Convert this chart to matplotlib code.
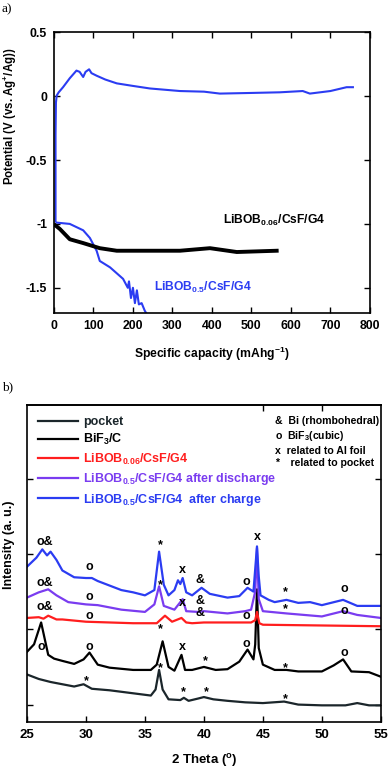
import matplotlib
matplotlib.use("Agg")
import matplotlib.pyplot as plt

plt.rcParams['font.family'] = ['Liberation Sans', 'DejaVu Sans']
plt.rcParams['font.weight'] = 'bold'
plt.rcParams['mathtext.fontset'] = 'custom'
plt.rcParams['mathtext.rm'] = 'Liberation Sans:bold'
plt.rcParams['mathtext.bf'] = 'Liberation Sans:bold'
plt.rcParams['mathtext.default'] = 'bf'

# --- panel a: charge/discharge curves ---
blue_dis_x = [7, 40, 74, 91, 108, 116, 142, 175, 187, 190, 195, 200, 205, 210, 215, 222, 230, 236]
blue_dis_y = [-0.99, -1.0, -1.05, -1.11, -1.21, -1.29, -1.34, -1.43, -1.50, -1.45, -1.58, -1.50,
              -1.62, -1.52, -1.63, -1.62, -1.68, -1.71]
blue_chg_x = [4, 4, 5, 7, 12, 23, 40, 57, 65, 74, 80, 89, 95, 108, 130, 159, 200, 243, 319, 380,
              420, 500, 572, 630, 648, 700, 741, 757]
blue_chg_y = [-0.98, -0.3, -0.05, 0.005, 0.03, 0.07, 0.14, 0.2, 0.19, 0.15, 0.19, 0.21, 0.18, 0.16,
              0.13, 0.1, 0.08, 0.06, 0.04, 0.035, 0.02, 0.025, 0.03, 0.04, 0.02, 0.04, 0.07, 0.07]
black_x = [3, 15, 40, 74, 116, 159, 243, 319, 395, 463, 564]
black_y = [-1.01, -1.04, -1.12, -1.15, -1.19, -1.21, -1.21, -1.21, -1.19, -1.22, -1.21]

# --- panel b: XRD patterns (offset, arbitrary units) ---
pocket_x = [25, 26, 27, 28, 29, 29.8, 30.5, 32, 34, 35.5, 35.9, 36.2, 36.5, 37, 38, 38.3, 38.7,
            39.5, 40, 40.8, 42, 43.5, 45, 46.8, 48, 50, 52, 53, 54, 55]
pocket_y = [1.40, 1.34, 1.30, 1.27, 1.24, 1.27, 1.21, 1.19, 1.15, 1.12, 1.20, 1.46, 1.20, 1.07,
            1.06, 1.09, 1.05, 1.08, 1.10, 1.07, 1.05, 1.03, 1.02, 1.04, 1.0, 0.99, 0.99, 1.02,
            0.99, 0.99]
bif3_x = [25, 25.6, 26.2, 26.8, 27.3, 28, 29, 29.8, 30.3, 31, 32, 34, 35.5, 36.0, 36.5, 37, 37.5,
          38.1, 38.4, 39, 40, 41, 42, 43, 43.7, 44.2, 44.35, 44.5, 44.65, 45, 46, 47, 48, 50, 51,
          51.8, 52.5, 54, 55]
bif3_y = [1.70, 1.80, 2.09, 1.66, 1.61, 1.58, 1.54, 1.60, 1.69, 1.53, 1.49, 1.46, 1.46, 1.53,
          1.84, 1.50, 1.45, 1.66, 1.46, 1.46, 1.50, 1.46, 1.47, 1.57, 1.73, 1.60, 1.80, 2.53, 1.75,
          1.53, 1.46, 1.46, 1.44, 1.44, 1.52, 1.60, 1.44, 1.43, 1.37]
red_x = [25, 26.0, 26.4, 26.8, 27.5, 28, 30, 34, 36, 36.7, 37.3, 38.1, 38.5, 39, 40, 44, 44.35,
         44.5, 44.7, 45, 50, 55]
red_y = [2.15, 2.16, 2.14, 2.18, 2.13, 2.13, 2.10, 2.08, 2.08, 2.18, 2.10, 2.15, 2.09, 2.08, 2.09,
         2.09, 2.12, 2.23, 2.08, 2.06, 2.05, 2.04]
purple_x = [25, 26, 26.8, 27.5, 28.5, 30, 31, 33, 35, 35.8, 36.2, 36.6, 37.5, 38.2, 38.5, 39.5, 40,
            42, 43.5, 44.0, 44.35, 44.5, 44.65, 45, 47, 50, 51.8, 53, 55]
purple_y = [2.42, 2.49, 2.53, 2.45, 2.36, 2.33, 2.32, 2.26, 2.23, 2.33, 2.57, 2.31, 2.26, 2.40,
            2.24, 2.23, 2.24, 2.21, 2.24, 2.26, 2.50, 3.08, 2.40, 2.24, 2.21, 2.17, 2.24, 2.19, 2.15]
blue_x = [25, 25.8, 26.3, 26.7, 27, 27.5, 28, 29, 30, 30.5, 31, 32, 33, 34, 35, 35.8, 36.2, 36.6,
          37, 37.5, 37.8, 38.0, 38.2, 38.5, 39, 39.8, 40.5, 42, 43, 43.7, 44.2, 44.35, 44.5, 44.65,
          44.8, 45.5, 46, 47, 48, 49, 50, 51.8, 53, 55]
blue_y = [2.83, 2.95, 3.06, 2.98, 3.03, 2.92, 2.78, 2.69, 2.68, 2.68, 2.64, 2.58, 2.52, 2.49,
          2.45, 2.52, 3.03, 2.59, 2.45, 2.52, 2.65, 2.60, 2.68, 2.49, 2.45, 2.55, 2.47, 2.42, 2.44,
          2.55, 2.50, 2.80, 3.10, 2.70, 2.45, 2.39, 2.36, 2.39, 2.35, 2.36, 2.32, 2.39, 2.31, 2.31]

marks = [
    ("o&", 26.5, 3.16), ("o", 30.3, 2.82), ("*", 36.35, 3.12), ("x", 38.2, 2.78),
    ("&", 39.7, 2.65), ("o", 43.6, 2.63), ("x", 44.5, 3.22), ("*", 46.9, 2.49), ("o", 51.9, 2.54),
    ("o&", 26.5, 2.62), ("o", 30.3, 2.43), ("*", 36.35, 2.59), ("x", 38.2, 2.35), ("&", 39.7, 2.38),
    ("*", 46.9, 2.26), ("o", 51.9, 2.24),
    ("o&", 26.5, 2.30), ("o", 30.3, 2.17), ("&", 39.7, 2.22), ("o", 43.6, 2.17),
    ("o", 26.2, 1.77), ("o", 30.3, 1.76), ("*", 36.35, 2.0), ("x", 38.2, 1.76), ("*", 40.1, 1.57),
    ("o", 43.6, 1.80), ("*", 46.9, 1.49), ("o", 51.9, 1.69),
    ("*", 30.0, 1.31), ("*", 36.35, 1.49), ("*", 38.3, 1.17), ("*", 40.2, 1.17), ("*", 46.9, 1.07),
]

BLUE = '#2b3cf2'
PURPLE = '#7a3cf0'
RED = '#ff1e1e'
DARK = '#1b262b'

fig = plt.figure(figsize=(3.91, 7.68), dpi=100)

# panel a
ax1 = fig.add_axes([0.138, 0.592, 0.808, 0.366])
ax1.plot(blue_dis_x, blue_dis_y, color=BLUE, lw=1.5)
ax1.plot(blue_chg_x, blue_chg_y, color=BLUE, lw=1.5)
ax1.plot(black_x, black_y, color='black', lw=2.8)
ax1.set_xlim(0, 800)
ax1.set_ylim(-1.7, 0.5)
ax1.set_xticks(range(0, 801, 100))
ax1.set_yticks([0.5, 0, -0.5, -1, -1.5])
ax1.set_yticklabels(['0.5', '0', '-0.5', '-1', '-1.5'])
ax1.tick_params(direction='in', top=True, right=True, length=4, width=1, labelsize=8.8, pad=5)
for s in ax1.spines.values():
    s.set_linewidth(1.2)
ax1.set_xlabel(r'Specific capacity (mAhg$^{-1}$)', fontsize=8.7, fontweight='bold', labelpad=9)
ax1.set_ylabel(r'Potential (V (vs. Ag$^{+}$/Ag))', fontsize=8.3, fontweight='bold')
ax1.yaxis.set_label_coords(-0.112, 0.70)
ax1.text(428, -0.97, r'LiBOB$_{0.06}$/CsF/G4', fontsize=8.7, color='black', ha='left',
         va='center')
ax1.text(253, -1.5, r'LiBOB$_{0.5}$/CsF/G4', fontsize=8.7, color=BLUE, ha='left', va='center')
fig.text(0.005, 0.988, 'a)', fontsize=9.5, family='Liberation Serif', weight='normal', va='center')

# panel b
ax2 = fig.add_axes([0.069, 0.060, 0.905, 0.413])
ax2.plot(pocket_x, pocket_y, color=DARK, lw=1.6, label='pocket')
ax2.plot(bif3_x, bif3_y, color='black', lw=1.6, label=r'BiF$_3$/C')
ax2.plot(red_x, red_y, color=RED, lw=1.6, label=r'LiBOB$_{0.06}$/CsF/G4')
ax2.plot(purple_x, purple_y, color=PURPLE, lw=1.6, label=r'LiBOB$_{0.5}$/CsF/G4 after discharge')
ax2.plot(blue_x, blue_y, color=BLUE, lw=1.6, label=r'LiBOB$_{0.5}$/CsF/G4  after charge')
for t, x, y in marks:
    ax2.text(x, y, t, fontsize=9, ha='center', va='center', color='black')
ax2.set_xlim(25, 55)
ax2.set_ylim(0.77, 4.98)
ax2.set_xticks(range(25, 56, 5))
ax2.set_yticks([1, 2, 3, 4])
ax2.set_yticklabels([])
ax2.tick_params(direction='in', right=True, length=4, width=1, labelsize=9.5, pad=5)
sec = ax2.secondary_xaxis('top')
sec.set_xticks([45, 50])
sec.set_xticklabels([])
sec.tick_params(direction='in', length=4, width=1)
for s in list(ax2.spines.values()) + list(sec.spines.values()):
    s.set_linewidth(1.2)
ax2.set_xlabel(r'2 Theta ($^{\mathrm{o}}$)', fontsize=9.5, fontweight='bold', labelpad=8)
ax2.set_ylabel('Intensity (a. u.)', fontsize=9, fontweight='bold')
ax2.yaxis.set_label_coords(-0.035, 0.56)
leg = ax2.legend(loc='upper left', bbox_to_anchor=(0.0, 1.0), frameon=False, fontsize=9,
                 handlelength=3.2, handletextpad=0.4, labelspacing=0.35, borderaxespad=0.5)
for txt, c in zip(leg.get_texts(), [DARK, 'black', RED, PURPLE, BLUE]):
    txt.set_color(c)
key_lines = ['&  Bi (rhombohedral)', r'o  BiF$_3$(cubic)', 'x  related to Al foil',
             '*    related to pocket']
key_y = [0.95, 0.90, 0.855, 0.815]
for k, yy in zip(key_lines, key_y):
    ax2.text(0.702, yy, k, transform=ax2.transAxes, fontsize=7.6, va='center')
fig.text(0.005, 0.496, 'b)', fontsize=9.5, family='Liberation Serif', weight='normal', va='center')

fig.savefig('out.png', dpi=100)
